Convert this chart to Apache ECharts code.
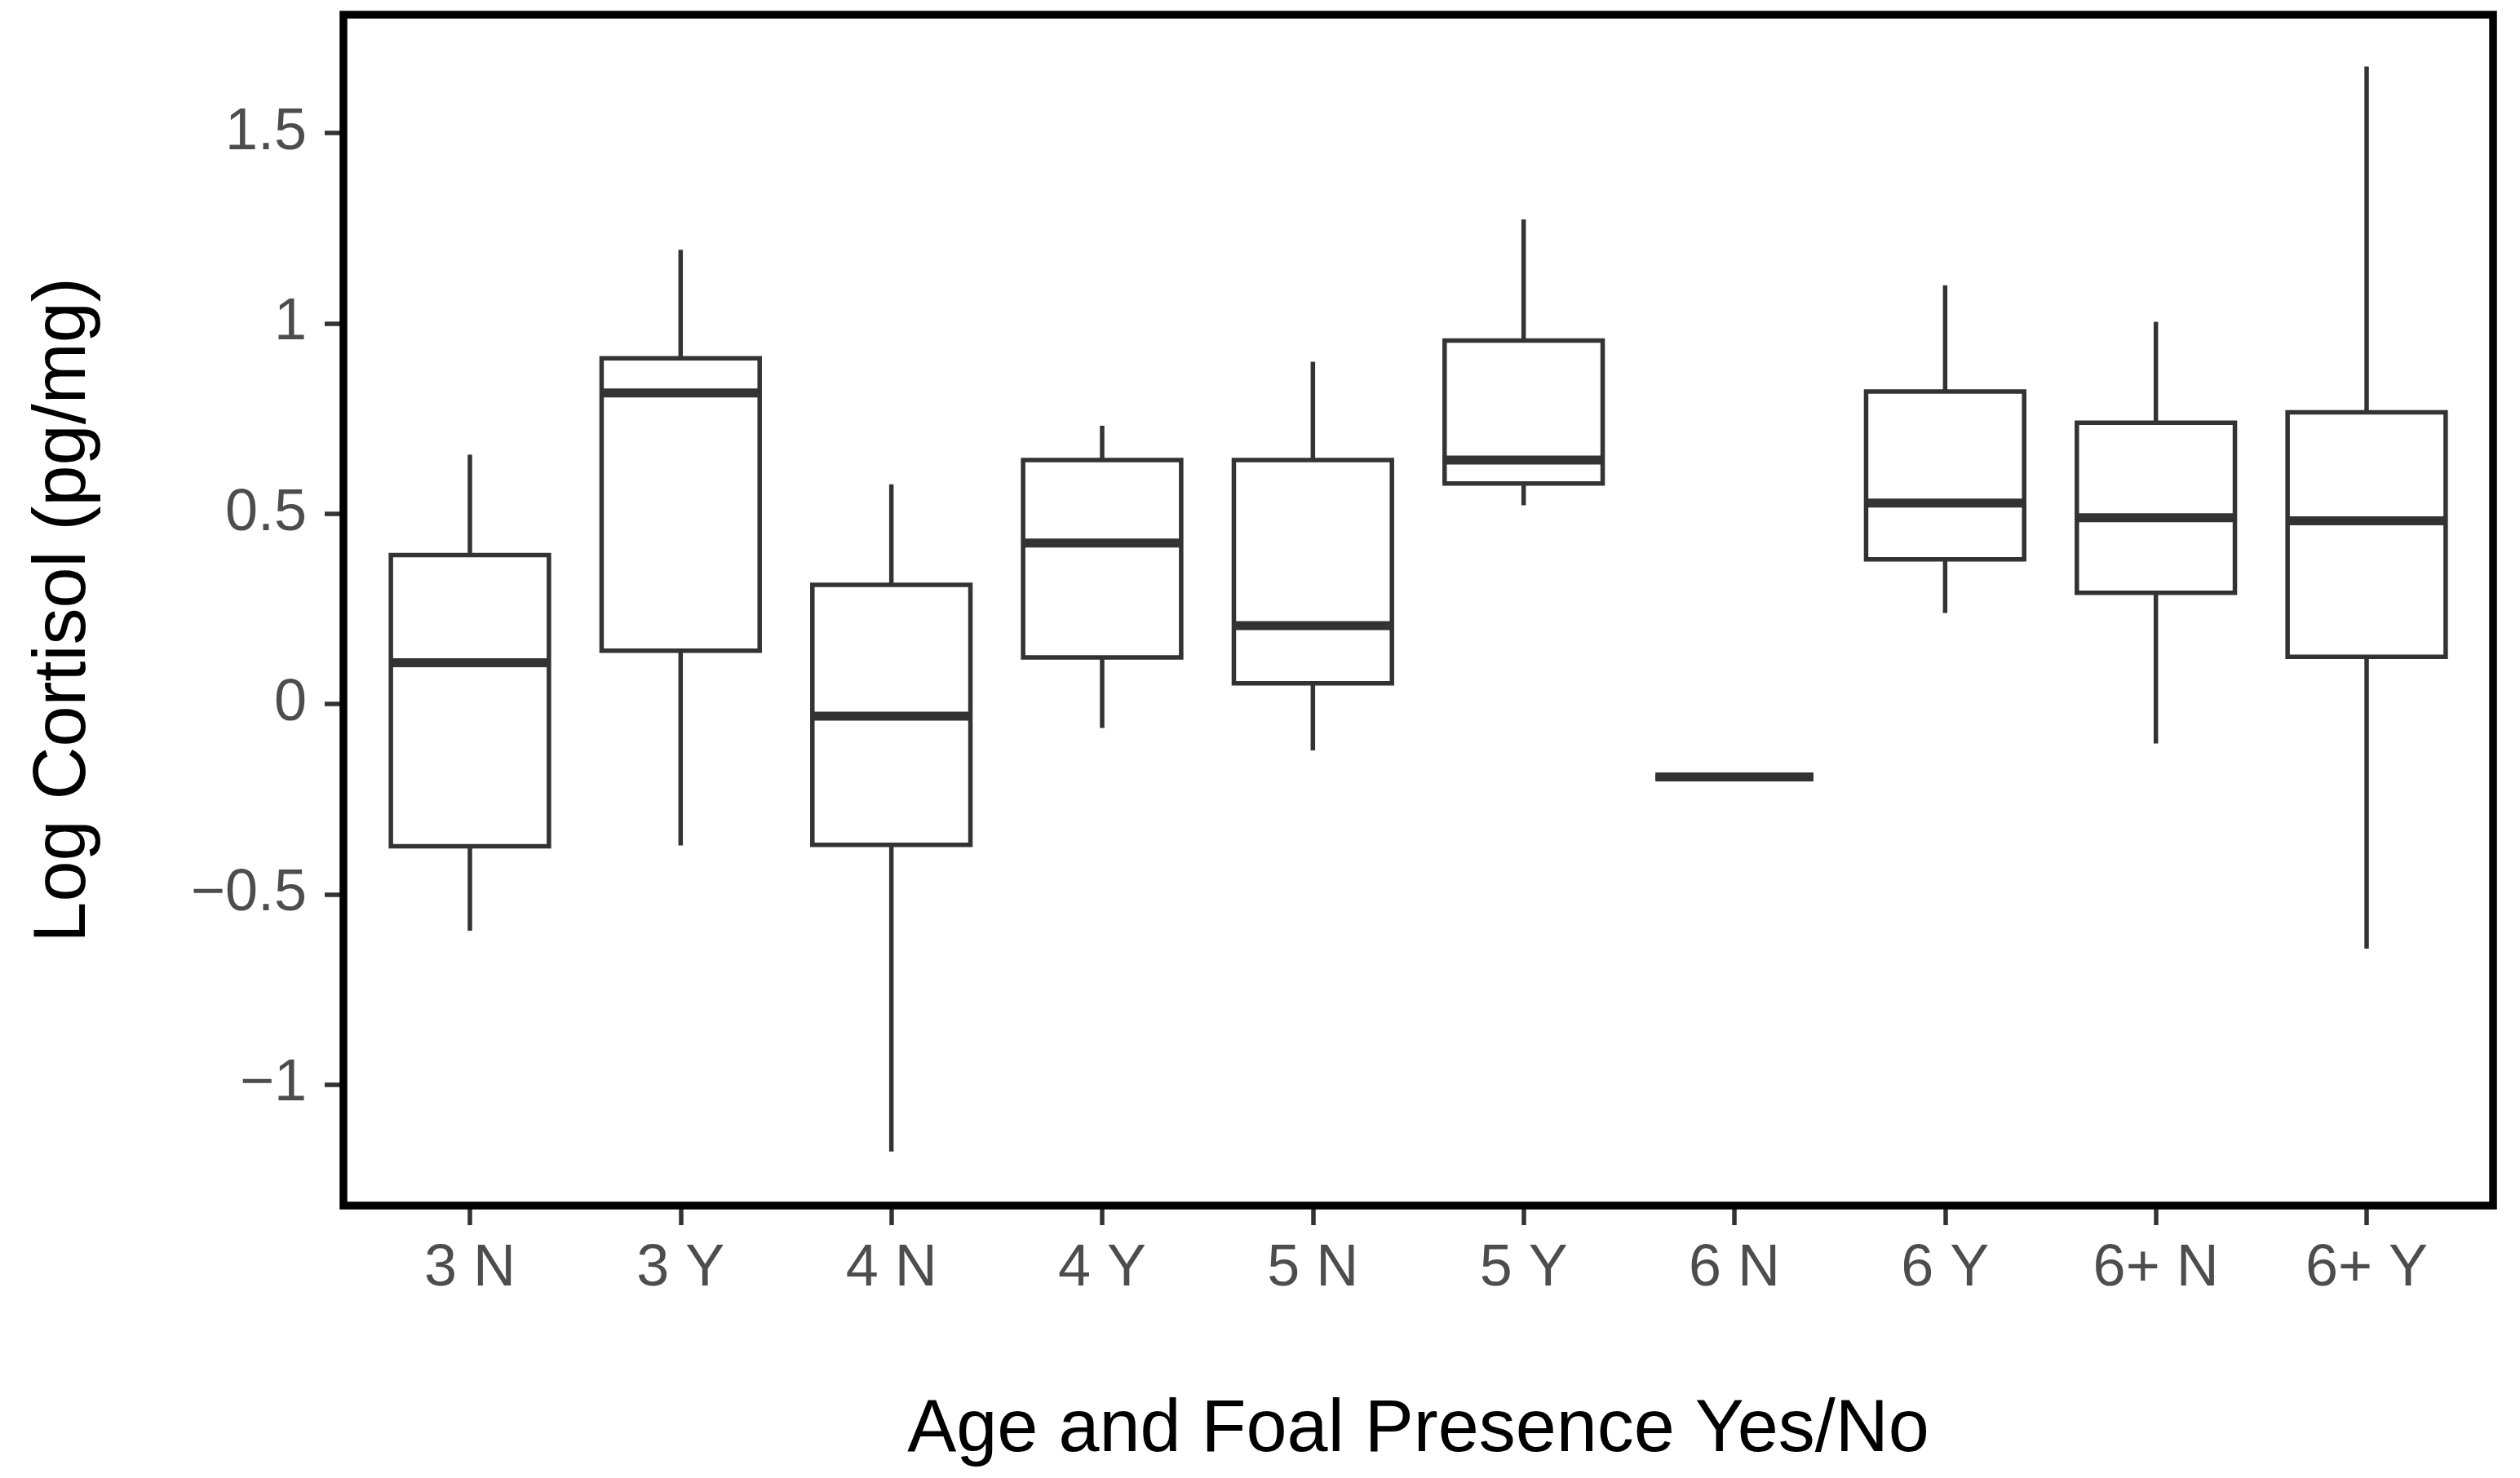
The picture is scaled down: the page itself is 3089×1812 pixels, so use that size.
<!DOCTYPE html>
<html>
<head>
<meta charset="utf-8">
<script src="https://cdn.jsdelivr.net/npm/echarts@6/dist/echarts.min.js"></script>
<style>
  html, body { margin: 0; padding: 0; background: #fff; }
  #chart { width: 3089px; height: 1812px; }
</style>
</head>
<body>
<div id="chart"></div>
<script>
// ---- data ----
const categories = ['3 N', '3 Y', '4 N', '4 Y', '5 N', '5 Y', '6 N', '6 Y', '6+ N', '6+ Y'];
const whiskerLow  = [-0.596, -0.372, -1.176, -0.063, -0.122, 0.522, -0.192, 0.239, -0.104, -0.643];
const q1          = [-0.374,  0.140, -0.370,  0.122,  0.054, 0.579, -0.192, 0.380,  0.292,  0.124];
const median      = [ 0.108,  0.817, -0.032,  0.423,  0.206, 0.641, -0.192, 0.528,  0.489,  0.481];
const q3          = [ 0.391,  0.908,  0.313,  0.641,  0.641, 0.955, -0.192, 0.821,  0.739,  0.766];
const whiskerHigh = [ 0.655,  1.193,  0.577,  0.731,  0.899, 1.273, -0.192, 1.100,  1.004,  1.675];
const yTicks = [-1, -0.5, 0, 0.5, 1, 1.5];

const boxData = categories.map((c, i) => [i, whiskerLow[i], q1[i], median[i], q3[i], whiskerHigh[i]]);

const FONT = '"Liberation Sans", Arial, sans-serif';
const LINE = '#333333';

// frame geometry (panel border)
const frameLeft = 421, frameTop = 18, frameRight = 3056, frameBottom = 1478;
const band = (frameRight - frameLeft) / 10.2;
const pad = band * 0.1;

const chart = echarts.init(document.getElementById('chart'), null, { renderer: 'canvas' });

function renderBox(params, api) {
  const i = api.value(0);
  const pLow = api.coord([i, api.value(1)]);
  const pQ1 = api.coord([i, api.value(2)]);
  const pMed = api.coord([i, api.value(3)]);
  const pQ3 = api.coord([i, api.value(4)]);
  const pHigh = api.coord([i, api.value(5)]);
  const bw = api.size([1, 0])[0] * 0.75;
  const cx = pMed[0];
  const lineStyle = { stroke: LINE, lineWidth: 5.5, fill: null };
  return {
    type: 'group',
    children: [
      { type: 'line', shape: { x1: cx, y1: pHigh[1], x2: cx, y2: pQ3[1] }, style: lineStyle },
      { type: 'line', shape: { x1: cx, y1: pQ1[1], x2: cx, y2: pLow[1] }, style: lineStyle },
      { type: 'rect', shape: { x: cx - bw / 2, y: pQ3[1], width: bw, height: pQ1[1] - pQ3[1] },
        style: { stroke: LINE, lineWidth: 5.5, fill: '#ffffff' } },
      { type: 'line', shape: { x1: cx - bw / 2, y1: pMed[1], x2: cx + bw / 2, y2: pMed[1] },
        style: { stroke: LINE, lineWidth: 11, lineCap: 'butt' } }
    ]
  };
}

const option = {
  backgroundColor: '#ffffff',
  animation: false,
  grid: {
    left: frameLeft + pad,
    right: 3089 - (frameRight - pad),
    top: frameTop,
    bottom: 1812 - frameBottom,
    containLabel: false
  },
  xAxis: {
    type: 'category',
    data: categories,
    boundaryGap: true,
    name: 'Age and Foal Presence Yes/No',
    nameLocation: 'middle',
    nameGap: 231,
    nameTextStyle: { fontFamily: FONT, fontSize: 90, color: '#000000' },
    axisLine: { show: false, onZero: false },
    axisTick: { show: true, alignWithLabel: true, length: 24, lineStyle: { color: LINE, width: 5.5 } },
    axisLabel: { fontFamily: FONT, fontSize: 72, color: '#4d4d4d', margin: 42, interval: 0 },
    splitLine: { show: false }
  },
  yAxis: {
    type: 'value',
    min: -1.318,
    max: 1.811,
    offset: pad,
    name: 'Log Cortisol (pg/mg)',
    nameLocation: 'middle',
    nameGap: 297,
    nameRotate: 90,
    nameTextStyle: { fontFamily: FONT, fontSize: 90, color: '#000000' },
    axisLine: { show: false, onZero: false },
    axisTick: { show: true, length: 23, customValues: yTicks, lineStyle: { color: LINE, width: 5.5 } },
    axisLabel: {
      fontFamily: FONT, fontSize: 72, color: '#4d4d4d', margin: 45,
      customValues: yTicks,
      formatter: v => (v < 0 ? '\u2212' + Math.abs(v) : String(v))
    },
    splitLine: { show: false }
  },
  series: [{
    type: 'custom',
    name: 'cortisol',
    renderItem: renderBox,
    encode: { x: 0, y: [1, 2, 3, 4, 5] },
    data: boxData,
    clip: false
  }],
  graphic: [{
    type: 'rect',
    z: 100,
    silent: true,
    shape: { x: frameLeft, y: frameTop, width: frameRight - frameLeft, height: frameBottom - frameTop },
    style: { fill: null, stroke: '#000000', lineWidth: 9.5 }
  }]
};

chart.setOption(option);
</script>
</body>
</html>
